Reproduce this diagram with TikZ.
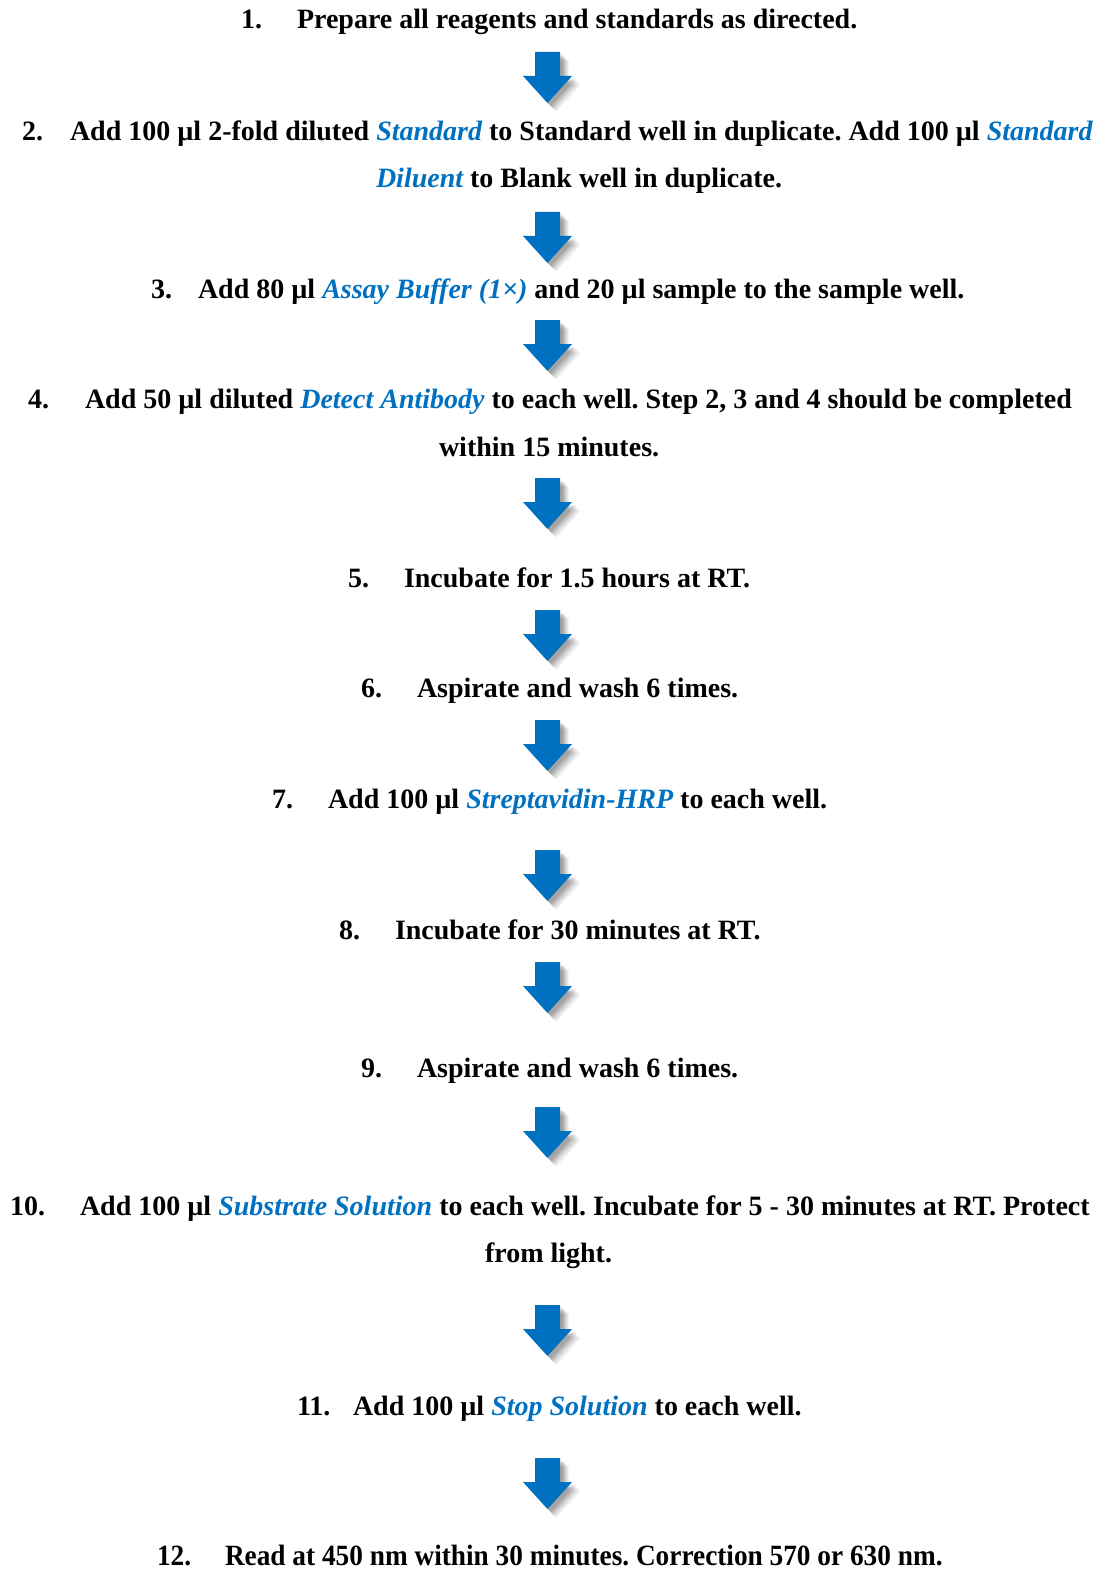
\documentclass[tikz,border=0pt]{standalone}
\usepackage{fontspec}
\setmainfont{Liberation Serif}
\usepackage{graphicx}
\frenchspacing
\definecolor{myblue}{HTML}{0070C0}
\newcommand{\bl}[1]{{\itshape\color{myblue}#1}}
\begin{document}
\begin{tikzpicture}[x=1pt,y=-1pt,
  txt/.style={anchor=base west,inner sep=0pt,outer sep=0pt,font=\fontsize{28}{32}\selectfont\bfseries},
  downarrow/.pic={
    \foreach \k/\o in {9/0.04,8/0.05,7/0.05,6/0.06,5/0.07,4/0.08,3/0.08}{
      \fill[black,opacity=\o] (-12.5+\k,0+\k) -- (12.5+\k,0+\k) -- (12.5+\k,24+\k) -- (24.5+\k,24+\k) -- (0+\k,51+\k) -- (-24.5+\k,24+\k) -- (-12.5+\k,24+\k) -- cycle;
    }
    \fill[myblue] (-12.5,0) -- (12.5,0) -- (12.5,24) -- (24.5,24) -- (0,51) -- (-24.5,24) -- (-12.5,24) -- cycle;
  }]
\useasboundingbox (0,0) rectangle (1099,1570);
% step 1
\node[txt] (n1) at (241,29) {1.};
\node[txt] (t1) at (297,29) {Prepare all reagents and standards as directed.};
% step 2
\node[txt] (n2) at (22,141) {2.};
\node[txt] (t2) at (70,141) {Add 100 µl 2-fold diluted \bl{Standard} to Standard well in duplicate. Add 100 µl \bl{Standard}};
\node[txt] (t2b) at (376,188) {\bl{Diluent} to Blank well in duplicate.};
% step 3
\node[txt] (n3) at (151,298) {3.};
\node[txt] (t3) at (198,298) {Add 80 µl \bl{Assay Buffer (1×)} and 20 µl sample to the sample well.};
% step 4
\node[txt] (n4) at (28,408) {4.};
\node[txt] (t4) at (85,408) {Add 50 µl diluted \bl{Detect Antibody} to each well. Step 2, 3 and 4 should be completed};
\node[txt] (t4b) at (439,456) {within 15 minutes.};
% step 5
\node[txt] (n5) at (348,587) {5.};
\node[txt] (t5) at (404,587) {Incubate for 1.5 hours at RT.};
% step 6
\node[txt] (n6) at (361,697) {6.};
\node[txt] (t6) at (417,697) {Aspirate and wash 6 times.};
% step 7
\node[txt] (n7) at (272,808) {7.};
\node[txt] (t7) at (328,808) {Add 100 µl \bl{Streptavidin-HRP} to each well.};
% step 8
\node[txt] (n8) at (339,939) {8.};
\node[txt] (t8) at (395,939) {Incubate for 30 minutes at RT.};
% step 9
\node[txt] (n9) at (361,1077) {9.};
\node[txt] (t9) at (417,1077) {Aspirate and wash 6 times.};
% step 10
\node[txt] (n10) at (10,1215) {10.};
\node[txt] (t10) at (80,1215) {Add 100 µl \bl{Substrate Solution} to each well. Incubate for 5 - 30 minutes at RT. Protect};
\node[txt] (t10b) at (485,1262) {from light.};
% step 11
\node[txt] (n11) at (297,1415) {11.};
\node[txt] (t11) at (353,1415) {Add 100 µl \bl{Stop Solution} to each well.};
% step 12
\node[txt] (n12) at (157,1565) {\scalebox{0.975}[1.05]{12.}};
\node[txt] (t12) at (225,1565) {\scalebox{0.975}[1.05]{Read at 450 nm within 30 minutes. Correction 570 or 630 nm.}};
% arrows
\foreach \t [count=\i] in {52,212,320,478,610,720,850,962,1107,1305,1458}{
  \pic (arr\i) at (547.5,\t) {downarrow};
}
\end{tikzpicture}
\end{document}
